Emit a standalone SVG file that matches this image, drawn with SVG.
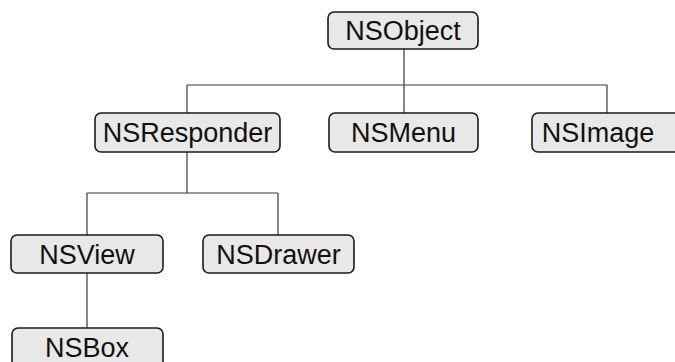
<svg xmlns="http://www.w3.org/2000/svg" width="675" height="362" viewBox="0 0 675 362">
<style>
.box{fill:#e8e8e8;stroke:#1a1a1a;stroke-width:1.6}
.lbl{font-family:"Liberation Sans",Arial,sans-serif;font-size:27px;fill:#111;text-anchor:middle}
.con{fill:none;stroke:#3a3a3a;stroke-width:1.2}
</style>
<rect width="675" height="362" fill="#fff"/>
<g id="connectors">
<path class="con" d="M404 49V85M187 85H607M187 85V113M404 85V113M607 85V113"/>
<path class="con" d="M187 152V193M87 193H278M87 193V235M278 193V235"/>
<path class="con" d="M87 273V328"/>
</g>
<g id="NSObject"><rect class="box" x="328" y="12" width="150" height="37" rx="6"/><text class="lbl" x="403" y="40">NSObject</text></g>
<g id="NSResponder"><rect class="box" x="95" y="113" width="185" height="39" rx="6"/><text class="lbl" x="187.5" y="142">NSResponder</text></g>
<g id="NSMenu"><rect class="box" x="329" y="113" width="149" height="39" rx="6"/><text class="lbl" x="403.5" y="142">NSMenu</text></g>
<g id="NSImage"><rect class="box" x="532" y="113" width="150" height="39" rx="6"/><text class="lbl" x="598" y="142">NSImage</text></g>
<g id="NSView"><rect class="box" x="11" y="235" width="152" height="38" rx="6"/><text class="lbl" x="87" y="263.5">NSView</text></g>
<g id="NSDrawer"><rect class="box" x="203" y="235" width="151" height="38" rx="6"/><text class="lbl" x="278.5" y="263.5">NSDrawer</text></g>
<g id="NSBox"><rect class="box" x="12" y="328" width="151" height="40" rx="6"/><text class="lbl" x="87" y="356.5">NSBox</text></g>
</svg>
